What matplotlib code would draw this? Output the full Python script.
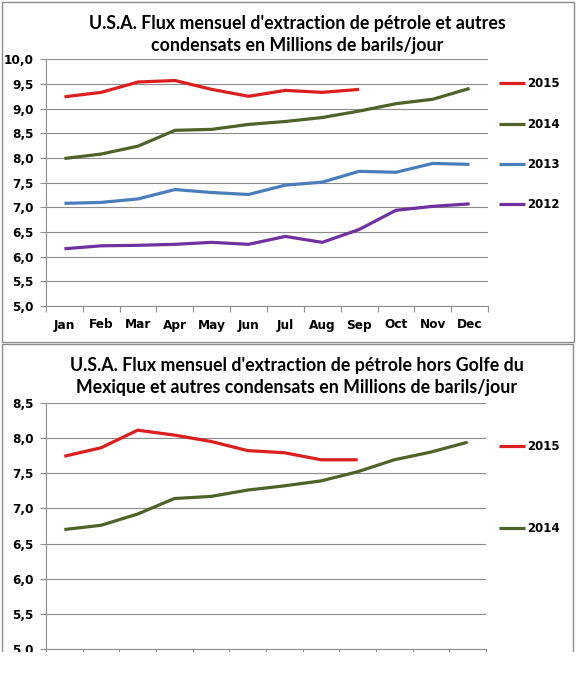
import matplotlib.pyplot as plt
from matplotlib.patches import Rectangle
from matplotlib.ticker import FixedLocator, FuncFormatter, MultipleLocator

months = ["Jan", "Feb", "Mar", "Apr", "May", "Jun", "Jul", "Aug", "Sep", "Oct", "Nov", "Dec"]

# panneau du haut : total U.S.A.
total_2015 = [9.24, 9.33, 9.54, 9.57, 9.39, 9.25, 9.37, 9.33, 9.39]
total_2014 = [7.99, 8.08, 8.24, 8.56, 8.58, 8.68, 8.74, 8.82, 8.95, 9.10, 9.19, 9.41]
total_2013 = [7.08, 7.10, 7.17, 7.36, 7.30, 7.26, 7.45, 7.51, 7.73, 7.71, 7.89, 7.87]
total_2012 = [6.16, 6.22, 6.23, 6.25, 6.29, 6.25, 6.41, 6.29, 6.55, 6.94, 7.02, 7.07]

# panneau du bas : hors Golfe du Mexique
hg_2015 = [7.74, 7.86, 8.11, 8.04, 7.95, 7.82, 7.79, 7.69, 7.69]
hg_2014 = [6.70, 6.76, 6.92, 7.14, 7.17, 7.26, 7.32, 7.39, 7.52, 7.69, 7.80, 7.94]

title_top = ["U.S.A. Flux mensuel d'extraction de pétrole et autres",
             "condensats en Millions de barils/jour"]
title_bottom = ["U.S.A. Flux mensuel d'extraction de pétrole hors Golfe du",
                "Mexique et autres condensats en Millions de barils/jour"]

colors = {"2015": "#dc1e1e", "2014": "#4f6228", "2013": "#4a7ebb", "2012": "#7030a0"}
gray = "#8c8c8c"
W, H = 578, 674

fig = plt.figure(figsize=(W / 100, H / 100), dpi=100)


def style_axes(ax, ymin, ymax):
    ax.set_xlim(-0.5, 11.5)
    ax.set_ylim(ymin, ymax)
    ax.yaxis.set_major_locator(MultipleLocator(0.5))
    ax.yaxis.set_major_formatter(FuncFormatter(lambda v, p: f"{v:.1f}".replace(".", ",")))
    ax.xaxis.set_major_locator(FixedLocator(range(12)))
    ax.xaxis.set_minor_locator(FixedLocator([i - 0.5 for i in range(13)]))
    ax.set_xticklabels(months)
    ax.tick_params(axis="x", which="major", length=0, pad=9)
    ax.tick_params(axis="x", which="minor", length=4, color=gray, width=0.8)
    ax.tick_params(axis="y", length=4, color=gray, width=0.8, pad=5)
    for lab in ax.get_xticklabels() + ax.get_yticklabels():
        lab.set_fontfamily("DejaVu Sans")
        lab.set_fontweight("bold")
        lab.set_fontsize(8.7)
    ax.grid(axis="y", color=gray, lw=0.8)
    ax.set_axisbelow(True)
    for s in ["top", "right"]:
        ax.spines[s].set_visible(False)
    for s in ["left", "bottom"]:
        ax.spines[s].set_color(gray)
        ax.spines[s].set_linewidth(0.8)


# cadres des deux graphiques
fig.patches.append(Rectangle((2 / W, 1 - 341.5 / H), 572 / W, 339.5 / H, transform=fig.transFigure,
                             fill=False, edgecolor=gray, lw=1))
fig.patches.append(Rectangle((2 / W, -0.1), 571 / W, 0.1 + 1 - 344.5 / H, transform=fig.transFigure,
                             fill=False, edgecolor=gray, lw=1))

ax1 = fig.add_axes([46 / W, 1 - 306 / H, 442 / W, 246.7 / H])
style_axes(ax1, 5, 10)
for lab, vals in [("2015", total_2015), ("2014", total_2014), ("2013", total_2013), ("2012", total_2012)]:
    ax1.plot(range(len(vals)), vals, color=colors[lab], lw=2.3, label=lab, solid_capstyle="butt")
ax1.legend(loc="upper left", bbox_to_anchor=(1.025, 0.927), frameon=False, borderpad=0, borderaxespad=0,
           handlelength=2.2, handletextpad=0.15, labelspacing=2.32,
           prop={"family": "DejaVu Sans", "weight": "bold", "size": 8.5})
fig.text(297 / W, 1 - 23 / H, title_top[0], ha="center", va="center", fontsize=12.8, fontweight="bold", family="Lato")
fig.text(297 / W, 1 - 46 / H, title_top[1], ha="center", va="center", fontsize=12.8, fontweight="bold", family="Lato")

ax2 = fig.add_axes([46 / W, 1 - 649.3 / H, 440 / W, 246.6 / H])
style_axes(ax2, 5, 8.5)
for lab, vals in [("2015", hg_2015), ("2014", hg_2014)]:
    ax2.plot(range(len(vals)), vals, color=colors[lab], lw=2.3, label=lab, solid_capstyle="butt")
ax2.legend(loc="upper left", bbox_to_anchor=(1.03, 0.848), frameon=False, borderpad=0, borderaxespad=0,
           handlelength=2.2, handletextpad=0.15, labelspacing=5.8,
           prop={"family": "DejaVu Sans", "weight": "bold", "size": 8.5})
fig.text(297 / W, 1 - 366 / H, title_bottom[0], ha="center", va="center", fontsize=12.8, fontweight="bold", family="Lato")
fig.text(297 / W, 1 - 388 / H, title_bottom[1], ha="center", va="center", fontsize=12.8, fontweight="bold", family="Lato")

# l'image d'origine est coupée en bas
fig.patches.append(Rectangle((0, 0), 1, 1 - 652 / H, transform=fig.transFigure,
                             facecolor="white", edgecolor="none", zorder=10))

fig.savefig("out.png", dpi=100)
